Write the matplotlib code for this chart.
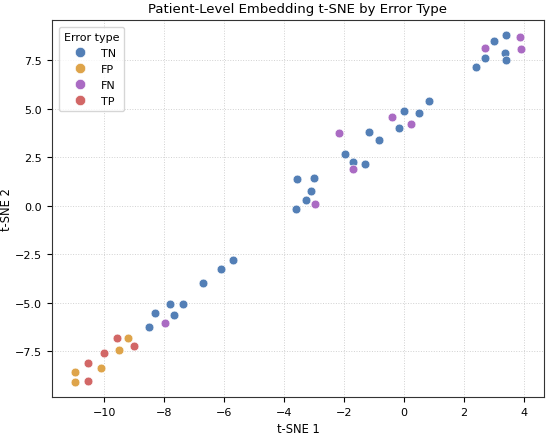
import numpy as np
import matplotlib
matplotlib.use("Agg")
import matplotlib.pyplot as plt
from matplotlib.lines import Line2D

# ── data ─────────────────────────────────────────────────────────────────────
tn_x = [-7.80, -7.38, -8.32, -7.66, -8.52, -6.69, -6.10, -5.70,
        0.84, 0.01, 0.48, -0.17, -1.17, -0.83, -1.97, -1.69, -1.30,
        -3.57, -3.02, -3.12, -3.28, -3.61,
        3.38, 2.98, 3.37, 2.70, 3.39, 2.41]
tn_y = [-5.05, -5.05, -5.52, -5.65, -6.27, -4.00, -3.26, -2.77,
        5.41, 4.91, 4.78, 4.00, 3.81, 3.42, 2.65, 2.25, 2.16,
        1.39, 1.41, 0.79, 0.29, -0.15,
        8.83, 8.50, 7.90, 7.63, 7.51, 7.18]

fp_x = [-9.20, -9.52, -10.09, -10.98, -10.98]
fp_y = [-6.84, -7.42, -8.35, -8.59, -9.07]

fn_x = [-7.98, -0.39, 0.22, -2.17, -1.69, -2.97, 3.86, 2.70, 3.90]
fn_y = [-6.05, 4.57, 4.21, 3.75, 1.92, 0.07, 8.69, 8.14, 8.10]

tp_x = [-9.57, -9.00, -10.00, -10.55, -10.53]
tp_y = [-6.80, -7.25, -7.61, -8.08, -9.02]

labels = ["TN", "FP", "FN", "TP"]
colors = ["#4a78b2", "#dd9f40", "#a663c0", "#d05f5e"]

# ── figure ───────────────────────────────────────────────────────────────────
fig, ax = plt.subplots(figsize=(5.5, 4.35), dpi=100)

series = [(tn_x, tn_y), (fp_x, fp_y), (fn_x, fn_y), (tp_x, tp_y)]
for (xs, ys), lab, col in zip(series, labels, colors):
    ax.scatter(xs, ys, s=40, c=col, label=lab, edgecolors="white",
               linewidths=0.5, alpha=0.95, zorder=3)

ax.set_xlim(-11.74, 4.66)
ax.set_ylim(-9.86, 9.59)
ax.set_xticks([-10, -8, -6, -4, -2, 0, 2, 4])
ax.set_yticks([-7.5, -5.0, -2.5, 0.0, 2.5, 5.0, 7.5])
ax.tick_params(labelsize=8, length=3.5)
ax.grid(True, ls=":", lw=0.7, color="#cccccc", alpha=0.9)
ax.set_axisbelow(True)
for sp in ax.spines.values():
    sp.set_edgecolor("#333333")

ax.set_title("Patient-Level Embedding t-SNE by Error Type", fontsize=9.5)
ax.set_xlabel("t-SNE 1", fontsize=8.3)
ax.set_ylabel("t-SNE 2", fontsize=8.3, labelpad=1.5)

handles = [Line2D([], [], ls="", marker="o", ms=7.5, mfc=c, mec="white",
                  mew=0.5, alpha=0.95) for c in colors]
ax.legend(handles, labels, title="Error type", loc="upper left",
          fontsize=8, title_fontsize=8, handlelength=2.4,
          handletextpad=0.7, labelspacing=0.55, borderpad=0.45,
          borderaxespad=0.6)

fig.subplots_adjust(left=0.0945, right=0.989, top=0.952, bottom=0.085)
fig.savefig("out.png", dpi=100)
